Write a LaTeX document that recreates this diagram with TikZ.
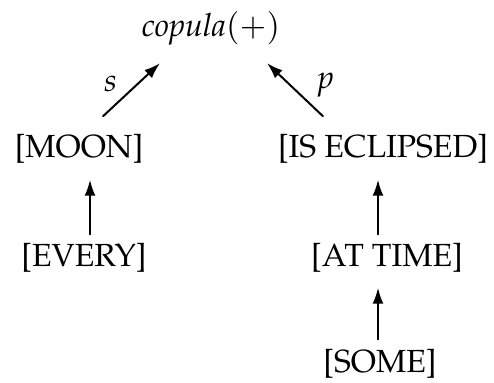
\documentclass[tikz,border=0pt]{standalone}
\usepackage[T1]{fontenc}
\usepackage{mathpazo}
\usetikzlibrary{arrows.meta}
\tikzset{
  lbl/.style={inner sep=0pt,font=\fontsize{32}{38}\selectfont},
  arr/.style={line width=2pt,-{Latex[length=16pt,width=11pt]}},
}
\begin{document}
\begin{tikzpicture}[x=1pt,y=-1pt,line cap=round,line join=round]
  \useasboundingbox (0,0) rectangle (494,382);
  \node[lbl] (cop) at (211,28) {\textit{copula}$(+)$};
  \node[lbl] (moon) at (79,149) {[MOON]};
  \node[lbl] (ecl) at (383,149) {[IS ECLIPSED]};
  \node[lbl] (every) at (84,258) {[EVERY]};
  \node[lbl] (atime) at (387,258) {[AT TIME]};
  \node[lbl] (some) at (380,364) {[SOME]};
  \coordinate (colL) at (90,0);
  \coordinate (colR) at (378,0);
  \draw[arr] ([xshift=24pt,yshift=18pt]moon.north) -- ([xshift=-51pt,yshift=-18pt]cop.south)
    node[lbl,midway,xshift=-21pt,yshift=6pt] {$s$};
  \draw[arr] ([xshift=-60pt,yshift=18pt]ecl.north) -- ([xshift=56pt,yshift=-18pt]cop.south)
    node[lbl,midway,xshift=30pt,yshift=5pt] {$p$};
  \draw[arr,shorten <=9pt,shorten >=16pt] (every.north -| colL) -- (moon.south -| colL);
  \draw[arr,shorten <=9pt,shorten >=16pt] (atime.north -| colR) -- (ecl.south -| colR);
  \draw[arr,shorten <=10pt,shorten >=15pt] (some.north -| colR) -- (atime.south -| colR);
\end{tikzpicture}
\end{document}
